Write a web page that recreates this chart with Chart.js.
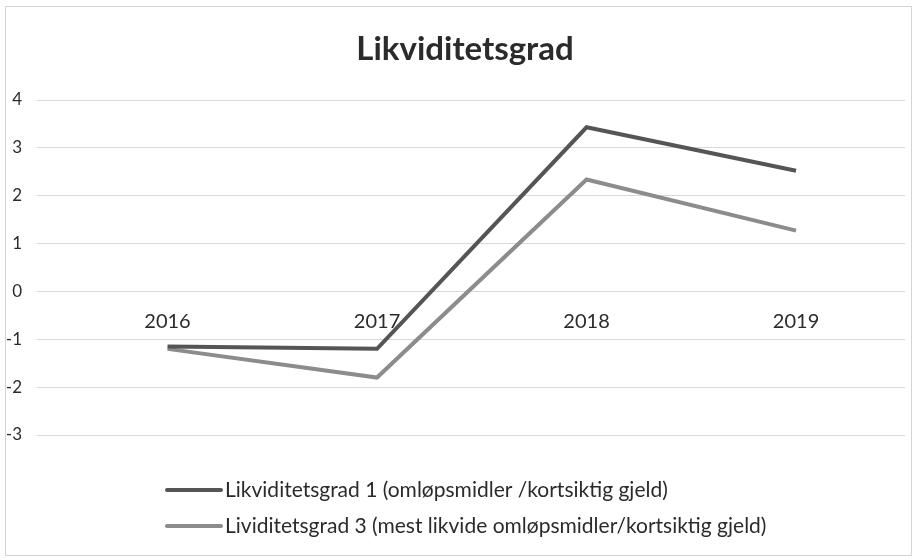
<!DOCTYPE html>
<html>
<head>
<meta charset="utf-8">
<script src="https://cdn.jsdelivr.net/npm/chart.js@4.4.1/dist/chart.umd.min.js"></script>
<style>
  html, body { margin: 0; padding: 0; background: #fff; }
  #wrap { width: 915px; height: 560px; }
</style>
</head>
<body>
<div id="wrap"><canvas id="myChart" width="915" height="560"></canvas></div>
<script>
// data
const years = ['2016', '2017', '2018', '2019'];
const likviditetsgrad1 = [-1.15, -1.2, 3.43, 2.52];
const likviditetsgrad3 = [-1.2, -1.8, 2.34, 1.27];
const seriesLabels = [
  'Likviditetsgrad 1 (omløpsmidler /kortsiktig gjeld)',
  'Lividitetsgrad 3 (mest likvide omløpsmidler/kortsiktig gjeld)',
];
const yMin = -3;
const yMax = 4;

const FONT = 'Lato';

// legend under the plot, rows left aligned like the original
const bottomLegend = {
  id: 'bottomLegend',
  afterDraw(chart) {
    const ctx = chart.ctx;
    ctx.save();
    ctx.font = '21px ' + FONT;
    ctx.textBaseline = 'middle';
    chart.data.datasets.forEach((ds, i) => {
      let y = 490 + i * 36;
      ctx.strokeStyle = ds.borderColor;
      ctx.lineWidth = 4;
      ctx.lineCap = 'round';
      ctx.beginPath();
      ctx.moveTo(167, y);
      ctx.lineTo(221, y);
      ctx.stroke();
      ctx.fillStyle = '#2b2b2b';
      ctx.fillText(ds.label, 225, y);
    });
    ctx.restore();
  },
};

// thin frame around the whole chart
const frame = {
  id: 'frame',
  beforeDraw(chart) {
    const ctx = chart.ctx;
    ctx.save();
    ctx.fillStyle = '#fff';
    ctx.fillRect(0, 0, chart.width, chart.height);
    ctx.strokeStyle = '#d4d4d4';
    ctx.lineWidth = 1;
    ctx.strokeRect(5.5, 6.5, 906, 549);
    ctx.restore();
  },
};

// the original title sits a bit right of the canvas centre
const nudgeTitle = {
  id: 'nudgeTitle',
  afterLayout(chart) {
    const t = chart.titleBlock;
    if (t) { t.left += 9; t.right += 9; }
  },
};

const toPoints = (vals) => vals.map((v, i) => ({ x: i, y: v }));

const PlotChart = () => {
  const ctx = document.getElementById('myChart');

  new Chart(ctx, {
    type: 'line',
    data: {
      datasets: [
        {
          label: seriesLabels[0],
          data: toPoints(likviditetsgrad1),
          borderColor: '#555555',
          borderWidth: 4,
          pointRadius: 0,
          fill: false,
          tension: 0,
        },
        {
          label: seriesLabels[1],
          data: toPoints(likviditetsgrad3),
          borderColor: '#8c8c8c',
          borderWidth: 4,
          pointRadius: 0,
          fill: false,
          tension: 0,
        },
      ],
    },
    options: {
      responsive: false,
      animation: false,
      layout: { padding: { left: 7, right: 10, top: 0, bottom: 125 } },
      plugins: {
        legend: { display: false },
        tooltip: { enabled: false },
        title: {
          display: true,
          text: 'Likviditetsgrad',
          color: '#2b2b2b',
          font: { family: FONT, size: 33, weight: 'bold' },
          padding: { top: 30, bottom: 30.4 },
        },
      },
      scales: {
        x: {
          type: 'linear',
          position: { y: 0 },
          min: -0.623,
          max: 3.52,
          afterFit: (s) => { s.height = 0; },
          afterBuildTicks: (s) => { s.ticks = years.map((_, i) => ({ value: i })); },
          grid: { display: false, drawTicks: false },
          border: { display: false },
          ticks: {
            autoSkip: false,
            maxRotation: 0,
            padding: 18,
            color: '#2b2b2b',
            font: { family: FONT, size: 20 },
            callback: (v) => years[v],
          },
        },
        y: {
          min: yMin,
          max: yMax,
          afterFit: (s) => { s.width = 30; },
          grid: { color: '#d9d9d9', lineWidth: 1, drawTicks: false },
          border: { display: false },
          ticks: {
            stepSize: 1,
            padding: 15,
            color: '#2b2b2b',
            font: { family: FONT, size: 17 },
          },
        },
      },
    },
    plugins: [frame, nudgeTitle, bottomLegend],
  });
};

window.onload = () => {
  document.fonts.load('16px ' + FONT).then(PlotChart, PlotChart);
};
</script>
</body>
</html>
